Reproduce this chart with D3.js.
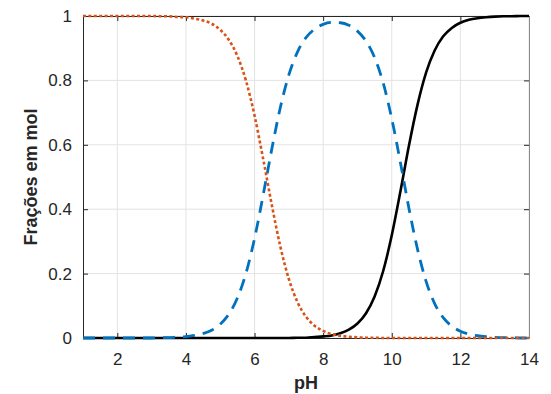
<!doctype html>
<html>
<head>
<meta charset="utf-8">
<script src="https://cdnjs.cloudflare.com/ajax/libs/d3/7.8.5/d3.min.js"></script>
<style>
  body { margin: 0; background: #fff; }
  svg { display: block; }
  svg text { font-family: "Liberation Sans", Arial, Helvetica, sans-serif; }
</style>
</head>
<body>
<svg width="551" height="394"></svg>
<script>
// pH values read along the x axis
var pH = [1, 1.25, 1.5, 1.75, 2, 2.25, 2.5, 2.75, 3, 3.25, 3.5, 3.75, 4, 4.25, 4.5, 4.75,
          5, 5.25, 5.5, 5.75, 6, 6.25, 6.5, 6.75, 7, 7.25, 7.5, 7.75, 8, 8.25, 8.5, 8.75,
          9, 9.25, 9.5, 9.75, 10, 10.25, 10.5, 10.75, 11, 11.25, 11.5, 11.75, 12, 12.25,
          12.5, 12.75, 13, 13.25, 13.5, 13.75, 14];

// orange dotted curve
var h2co3 = [1, 1, 1, 1, 1, 1, 1, 1, 1, 0.999, 0.999, 0.997, 0.996, 0.992, 0.986, 0.976,
             0.957, 0.926, 0.876, 0.799, 0.691, 0.557, 0.415, 0.285, 0.183, 0.112, 0.066, 0.038, 0.022, 0.012, 0.007, 0.004,
             0.002, 0.001, 0.001, 0, 0, 0, 0, 0, 0, 0, 0, 0, 0, 0,
             0, 0, 0, 0, 0, 0, 0];

// blue dashed curve
var hco3 = [0, 0, 0, 0, 0, 0, 0, 0, 0, 0.001, 0.001, 0.003, 0.004, 0.008, 0.014, 0.024,
            0.043, 0.074, 0.124, 0.201, 0.309, 0.443, 0.585, 0.715, 0.817, 0.888, 0.933, 0.959, 0.974, 0.980, 0.979, 0.971,
            0.953, 0.922, 0.871, 0.792, 0.681, 0.546, 0.403, 0.276, 0.176, 0.107, 0.063, 0.037, 0.021, 0.012,
            0.007, 0.004, 0.002, 0.001, 0.001, 0, 0];

// black solid curve
var co3 = [0, 0, 0, 0, 0, 0, 0, 0, 0, 0, 0, 0, 0, 0, 0, 0,
           0, 0, 0, 0, 0, 0, 0, 0, 0, 0.001, 0.001, 0.003, 0.005, 0.008, 0.015, 0.026,
           0.045, 0.077, 0.129, 0.208, 0.319, 0.454, 0.597, 0.724, 0.824, 0.893, 0.937, 0.963, 0.979, 0.988,
           0.993, 0.996, 0.998, 0.999, 0.999, 1, 1];

var xTicks = [2, 4, 6, 8, 10, 12, 14];
var yTicks = [0, 0.2, 0.4, 0.6, 0.8, 1];

var svg = d3.select("svg"),
    pLeft = 83, pRight = 529, pTop = 16, pBottom = 338;

var x = d3.scaleLinear().domain([1, 14]).range([pLeft, pRight]);
var y = d3.scaleLinear().domain([0, 1]).range([pBottom, pTop]);

var axisColor = "#262626";

// grid
var grid = svg.append("g");
grid.selectAll(".gx").data(xTicks).enter().append("line")
    .attr("x1", function (d) { return x(d); }).attr("x2", function (d) { return x(d); })
    .attr("y1", pTop).attr("y2", pBottom)
    .attr("stroke", "#e3e3e3").attr("stroke-width", 1);
grid.selectAll(".gy").data(yTicks).enter().append("line")
    .attr("y1", function (d) { return y(d); }).attr("y2", function (d) { return y(d); })
    .attr("x1", pLeft).attr("x2", pRight)
    .attr("stroke", "#e3e3e3").attr("stroke-width", 1);

// axes (ticks inside)
var xAxis = svg.append("g")
    .attr("transform", "translate(0," + pBottom + ")")
    .call(d3.axisBottom(x).tickValues(xTicks).tickSizeInner(-5).tickSizeOuter(0).tickPadding(15));
var yAxis = svg.append("g")
    .attr("transform", "translate(" + pLeft + ",0)")
    .call(d3.axisLeft(y).tickValues(yTicks).tickSizeInner(-5).tickSizeOuter(0).tickPadding(11)
        .tickFormat(function (d) { return d; }));
var xTop = svg.append("g")
    .attr("transform", "translate(0," + pTop + ")")
    .call(d3.axisTop(x).tickValues(xTicks).tickSizeInner(-5).tickSizeOuter(0).tickFormat(""));
var yRight = svg.append("g")
    .attr("transform", "translate(" + pRight + ",0)")
    .call(d3.axisRight(y).tickValues(yTicks).tickSizeInner(-5).tickSizeOuter(0).tickFormat(""));

[xAxis, yAxis, xTop, yRight].forEach(function (a) {
    a.attr("font-size", 17).attr("font-family", null);
    a.select(".domain").attr("stroke", axisColor);
    a.selectAll(".tick line").attr("stroke", axisColor);
    a.selectAll("text").attr("fill", axisColor);
});
yRight.select(".domain").attr("stroke", "#8a8a8a");

// curves
var line = d3.line()
    .x(function (d) { return x(d[0]); })
    .y(function (d) { return y(d[1]); })
    .curve(d3.curveMonotoneX);

function pairs(vals) { return pH.map(function (p, i) { return [p, vals[i]]; }); }

svg.append("path").datum(pairs(co3))
    .attr("d", line).attr("fill", "none")
    .attr("stroke", "#000").attr("stroke-width", 2.6);

svg.append("path").datum(pairs(hco3))
    .attr("d", line).attr("fill", "none")
    .attr("stroke", "#0072BD").attr("stroke-width", 2.8)
    .attr("stroke-dasharray", "12,8");

svg.append("path").datum(pairs(h2co3))
    .attr("d", line).attr("fill", "none")
    .attr("stroke", "#D95319").attr("stroke-width", 2.6)
    .attr("stroke-dasharray", "3,2.4");

// labels
svg.append("text")
    .attr("x", (pLeft + pRight) / 2).attr("y", 389)
    .attr("text-anchor", "middle")
    .attr("font-weight", "bold").attr("font-size", 18)
    .attr("fill", axisColor)
    .text("pH");

svg.append("text")
    .attr("transform", "translate(37," + ((pTop + pBottom) / 2) + ") rotate(-90)")
    .attr("text-anchor", "middle")
    .attr("font-weight", "bold").attr("font-size", 18)
    .attr("fill", axisColor)
    .text("Frações em mol");
</script>
</body>
</html>
